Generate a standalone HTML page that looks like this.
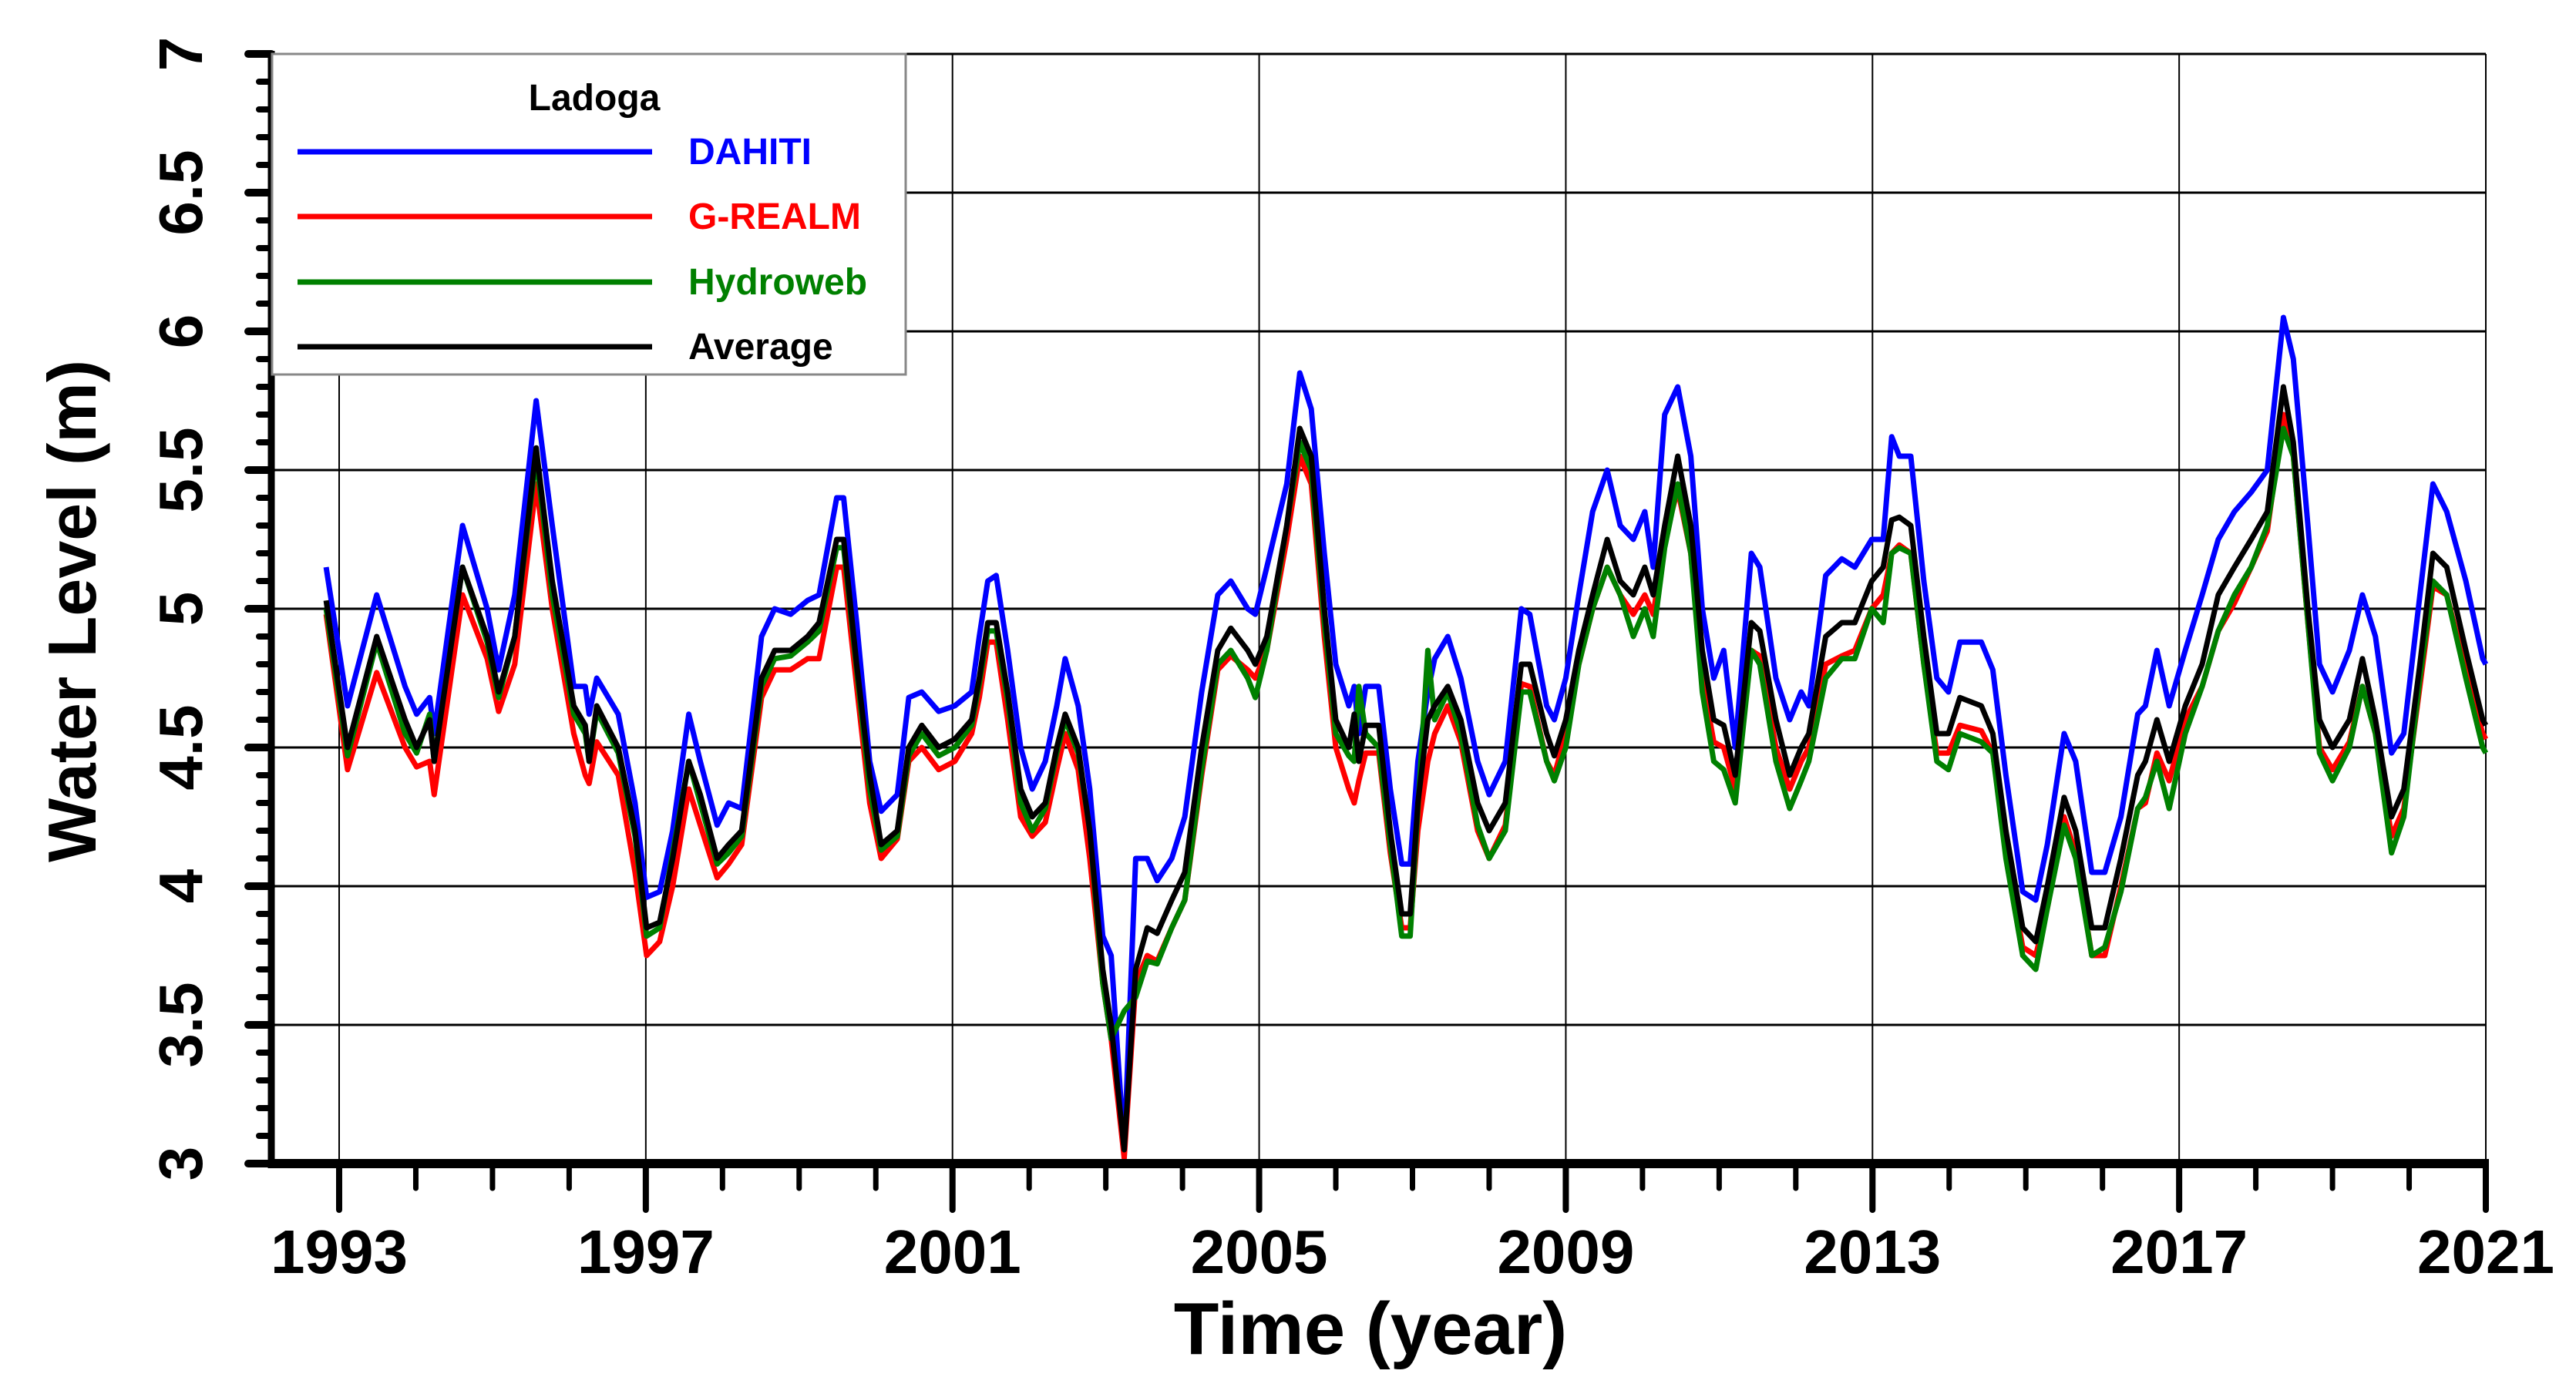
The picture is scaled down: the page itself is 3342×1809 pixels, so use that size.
<!DOCTYPE html>
<html><head><meta charset="utf-8"><style>
html,body{margin:0;padding:0;background:#fff;}
svg{display:block;font-family:"Liberation Sans",Arial,sans-serif;}
</style></head><body>
<svg id="chart" width="3342" height="1809" viewBox="0 0 3342 1809" xmlns="http://www.w3.org/2000/svg">
<rect x="0" y="0" width="3342" height="1809" fill="#fff"/>
<g id="grid"></g>
<g id="series"></g>
<g id="axes"></g>
<g id="legend">
  <rect x="353" y="70" width="822" height="416" fill="#fff" stroke="#888" stroke-width="3"/>
  <text x="771" y="143" font-size="48" text-anchor="middle" font-weight="bold">Ladoga</text>
  <line x1="386" y1="197" x2="846" y2="197" stroke="#0000ff" stroke-width="7"/>
  <text x="893" y="213" font-size="48" font-weight="bold" fill="#0000ff">DAHITI</text>
  <line x1="386" y1="281" x2="846" y2="281" stroke="#ff0000" stroke-width="7"/>
  <text x="893" y="297" font-size="48" font-weight="bold" fill="#ff0000">G-REALM</text>
  <line x1="386" y1="366" x2="846" y2="366" stroke="#008000" stroke-width="7"/>
  <text x="893" y="382" font-size="48" font-weight="bold" fill="#008000">Hydroweb</text>
  <line x1="386" y1="450" x2="846" y2="450" stroke="#000" stroke-width="7"/>
  <text x="893" y="466" font-size="48" font-weight="bold" fill="#000">Average</text>
</g>
<text x="1778" y="1757" font-size="96" font-weight="bold" text-anchor="middle">Time (year)</text>
<text transform="translate(124,793) rotate(-90)" font-size="88" font-weight="bold" text-anchor="middle">Water Level (m)</text>
</svg>
<script>
const times=[1992.83,1993.11,1993.49,1993.86,1994.01,1994.18,1994.24,1994.61,1994.93,1995.08,1995.29,1995.57,1995.78,1996.06,1996.21,1996.26,1996.36,1996.64,1996.86,1997.01,1997.18,1997.35,1997.56,1997.71,1997.93,1998.08,1998.25,1998.51,1998.68,1998.89,1999.11,1999.26,1999.49,1999.58,1999.75,1999.92,2000.07,2000.28,2000.43,2000.60,2000.82,2001.03,2001.25,2001.35,2001.46,2001.57,2001.72,2001.89,2002.04,2002.21,2002.36,2002.47,2002.64,2002.79,2002.96,2003.07,2003.24,2003.39,2003.54,2003.67,2003.86,2004.03,2004.25,2004.46,2004.63,2004.85,2004.95,2005.10,2005.36,2005.53,2005.68,2005.85,2006.00,2006.17,2006.24,2006.30,2006.39,2006.56,2006.71,2006.86,2006.97,2007.07,2007.20,2007.29,2007.46,2007.63,2007.85,2008.00,2008.21,2008.42,2008.53,2008.75,2008.85,2009.00,2009.17,2009.35,2009.54,2009.71,2009.88,2010.03,2010.14,2010.29,2010.46,2010.63,2010.78,2010.93,2011.06,2011.21,2011.42,2011.53,2011.74,2011.92,2012.07,2012.17,2012.39,2012.60,2012.77,2012.99,2013.14,2013.25,2013.35,2013.50,2013.67,2013.84,2013.99,2014.14,2014.42,2014.57,2014.74,2014.96,2015.13,2015.28,2015.50,2015.65,2015.86,2016.03,2016.24,2016.46,2016.56,2016.71,2016.87,2017.08,2017.30,2017.51,2017.72,2017.94,2018.15,2018.36,2018.49,2018.68,2018.83,2019.00,2019.22,2019.39,2019.56,2019.77,2019.93,2020.14,2020.31,2020.49,2020.74,2020.96,2021.00];
const average=[5.03,4.50,4.90,4.60,4.50,4.60,4.45,5.15,4.90,4.70,4.90,5.58,5.10,4.65,4.58,4.45,4.65,4.50,4.20,3.85,3.87,4.10,4.45,4.33,4.10,4.15,4.20,4.75,4.85,4.85,4.90,4.95,5.25,5.25,4.80,4.40,4.15,4.20,4.50,4.58,4.50,4.53,4.60,4.75,4.95,4.95,4.70,4.35,4.25,4.30,4.50,4.62,4.50,4.20,3.70,3.50,3.05,3.70,3.85,3.83,3.95,4.05,4.50,4.85,4.93,4.85,4.80,4.90,5.30,5.65,5.55,5.00,4.60,4.50,4.62,4.45,4.58,4.58,4.20,3.90,3.90,4.30,4.60,4.65,4.72,4.60,4.30,4.20,4.30,4.80,4.80,4.55,4.47,4.60,4.85,5.05,5.25,5.10,5.05,5.15,5.05,5.30,5.55,5.30,4.85,4.60,4.58,4.40,4.95,4.92,4.60,4.40,4.50,4.55,4.90,4.95,4.95,5.10,5.15,5.32,5.33,5.30,4.90,4.55,4.55,4.68,4.65,4.55,4.20,3.85,3.80,4.00,4.32,4.20,3.85,3.85,4.10,4.40,4.45,4.60,4.45,4.65,4.80,5.05,5.15,5.25,5.35,5.80,5.60,5.00,4.60,4.50,4.60,4.82,4.60,4.25,4.35,4.80,5.20,5.15,4.85,4.60,4.58];
const dahiti=[5.15,4.65,5.05,4.72,4.62,4.68,4.55,5.30,5.00,4.78,5.05,5.75,5.30,4.72,4.72,4.62,4.75,4.62,4.30,3.96,3.98,4.20,4.62,4.45,4.22,4.30,4.28,4.90,5.00,4.98,5.03,5.05,5.40,5.40,4.95,4.45,4.27,4.33,4.68,4.70,4.63,4.65,4.70,4.90,5.10,5.12,4.85,4.50,4.35,4.45,4.65,4.82,4.65,4.35,3.82,3.75,3.05,4.10,4.10,4.02,4.10,4.25,4.70,5.05,5.10,5.00,4.98,5.15,5.45,5.85,5.72,5.20,4.80,4.65,4.72,4.55,4.72,4.72,4.35,4.08,4.08,4.45,4.70,4.82,4.90,4.75,4.45,4.33,4.45,5.00,4.98,4.65,4.60,4.75,5.05,5.35,5.50,5.30,5.25,5.35,5.15,5.70,5.80,5.55,5.00,4.75,4.85,4.50,5.20,5.15,4.75,4.60,4.70,4.65,5.12,5.18,5.15,5.25,5.25,5.62,5.55,5.55,5.10,4.75,4.70,4.88,4.88,4.78,4.40,3.98,3.95,4.15,4.55,4.45,4.05,4.05,4.25,4.62,4.65,4.85,4.65,4.85,5.05,5.25,5.35,5.42,5.50,6.05,5.90,5.30,4.80,4.70,4.85,5.05,4.90,4.48,4.55,5.05,5.45,5.35,5.10,4.82,4.80];
const grealm=[4.98,4.42,4.77,4.50,4.43,4.45,4.33,5.05,4.82,4.63,4.80,5.45,5.00,4.55,4.40,4.37,4.52,4.40,4.05,3.75,3.80,4.00,4.35,4.22,4.03,4.08,4.15,4.68,4.78,4.78,4.82,4.82,5.15,5.15,4.72,4.30,4.10,4.17,4.45,4.50,4.42,4.45,4.55,4.68,4.88,4.88,4.60,4.25,4.18,4.23,4.42,4.55,4.42,4.10,3.65,3.45,3.02,3.65,3.75,3.73,3.85,3.95,4.40,4.78,4.83,4.78,4.75,4.85,5.25,5.55,5.45,4.90,4.50,4.35,4.30,4.38,4.48,4.48,4.12,3.85,3.85,4.20,4.45,4.55,4.65,4.52,4.20,4.10,4.22,4.73,4.72,4.45,4.40,4.55,4.80,5.00,5.15,5.05,4.98,5.05,4.98,5.25,5.43,5.20,4.75,4.52,4.50,4.35,4.85,4.83,4.50,4.35,4.45,4.50,4.80,4.83,4.85,5.00,5.05,5.20,5.23,5.20,4.80,4.48,4.48,4.58,4.56,4.48,4.12,3.78,3.75,3.92,4.25,4.12,3.75,3.75,4.00,4.28,4.30,4.48,4.38,4.60,4.72,4.92,5.02,5.15,5.28,5.70,5.55,4.95,4.50,4.42,4.52,4.72,4.55,4.18,4.28,4.72,5.08,5.05,4.78,4.55,4.53];
const hydroweb=[5.00,4.47,4.88,4.55,4.48,4.62,4.45,5.15,4.88,4.68,4.90,5.55,5.05,4.62,4.55,4.45,4.63,4.48,4.18,3.82,3.85,4.12,4.45,4.30,4.08,4.12,4.18,4.72,4.82,4.83,4.88,4.92,5.22,5.22,4.78,4.35,4.13,4.18,4.47,4.55,4.47,4.50,4.58,4.73,4.92,4.92,4.67,4.30,4.20,4.28,4.48,4.60,4.48,4.20,3.65,3.45,3.55,3.60,3.73,3.72,3.85,3.95,4.42,4.80,4.85,4.75,4.68,4.85,5.30,5.60,5.50,4.95,4.55,4.47,4.45,4.72,4.55,4.50,4.15,3.82,3.82,4.28,4.85,4.60,4.70,4.55,4.22,4.10,4.20,4.70,4.70,4.45,4.38,4.50,4.80,5.00,5.15,5.05,4.90,5.00,4.90,5.22,5.45,5.20,4.70,4.45,4.42,4.30,4.85,4.80,4.45,4.28,4.38,4.45,4.75,4.82,4.82,5.00,4.95,5.20,5.22,5.20,4.80,4.45,4.42,4.55,4.52,4.48,4.10,3.75,3.70,3.92,4.22,4.10,3.75,3.78,3.98,4.28,4.32,4.45,4.28,4.55,4.72,4.92,5.05,5.15,5.30,5.65,5.55,4.95,4.48,4.38,4.50,4.72,4.55,4.12,4.25,4.75,5.10,5.05,4.75,4.50,4.48];
const yTicks=[3,3.5,4,4.5,5,5.5,6,6.5,7];
const yTickLabels=["3","3.5","4","4.5","5","5.5","6","6.5","7"];
const xTicks=[1993,1997,2001,2005,2009,2013,2017,2021];
const xTickLabels=["1993","1997","2001","2005","2009","2013","2017","2021"];

const NS="http://www.w3.org/2000/svg";
const L=352,R=3225,T=70,B=1510;
const X0=1993,X1=2021,PX0=440,PX1=3225;
const Y0=3,Y1=7;
function sx(v){return PX0+(v-X0)*(PX1-PX0)/(X1-X0);}
function sy(v){return B-(v-Y0)*(B-T)/(Y1-Y0);}
function mk(tag,attrs,parent){const e=document.createElementNS(NS,tag);for(const k in attrs)e.setAttribute(k,attrs[k]);parent.appendChild(e);return e;}
const grid=document.getElementById('grid'),axes=document.getElementById('axes'),ser=document.getElementById('series');

yTicks.forEach(v=>{
  if(v===Y0)return;
  const g=mk('line',{x1:L,x2:R,y1:sy(v),y2:sy(v),stroke:'#000','stroke-width':3},grid);
  
  
});
xTicks.forEach(v=>{
  const g=mk('line',{x1:sx(v),x2:sx(v),y1:T,y2:B,stroke:'#000','stroke-width':2},grid);
  
  
});

const seriesList=[[dahiti,'#0000ff','series-dahiti'],[grealm,'#ff0000','series-grealm'],[hydroweb,'#008000','series-hydroweb'],[average,'#000000','series-average']];
seriesList.forEach(s=>{
  const d=times.map((t,i)=>(i?'L':'M')+sx(t).toFixed(1)+','+sy(s[0][i]).toFixed(1)).join(' ');
  const p=mk('path',{d:d,fill:'none',stroke:s[1],'stroke-width':7,'stroke-linejoin':'round'},ser);
  
  
});

const ya=mk('line',{x1:L,x2:L,y1:T-4,y2:B+6,stroke:'#000','stroke-width':9},axes);


const xa=mk('line',{x1:L-4,x2:R+4,y1:B,y2:B,stroke:'#000','stroke-width':12},axes);



for(let i=0;i<=40;i++){
  const v=Y0+i*0.1, major=(i%5===0);
  const t=mk('line',{x1:L-(major?30:16),x2:L,y1:sy(v),y2:sy(v),stroke:'#000','stroke-width':major?10:8,'stroke-linecap':'round'},axes);
  
  
}
yTicks.forEach((v,i)=>{
  const tx=mk('text',{transform:'translate(262,'+sy(v)+') rotate(-90)','font-size':80,'font-weight':'bold','text-anchor':'middle'},axes);
  tx.textContent=yTickLabels[i];
  
  
});
for(let yr=1993;yr<=2021;yr++){
  const major=((yr-1993)%4===0);
  const t=mk('line',{x1:sx(yr),x2:sx(yr),y1:B,y2:B+(major?60:32),stroke:'#000','stroke-width':major?8:7,'stroke-linecap':'round'},axes);
  
  
}
xTicks.forEach((v,i)=>{
  const tx=mk('text',{x:sx(v),y:1652,'font-size':80,'font-weight':'bold','text-anchor':'middle'},axes);
  tx.textContent=xTickLabels[i];
  
  
});
</script>
</body></html>
